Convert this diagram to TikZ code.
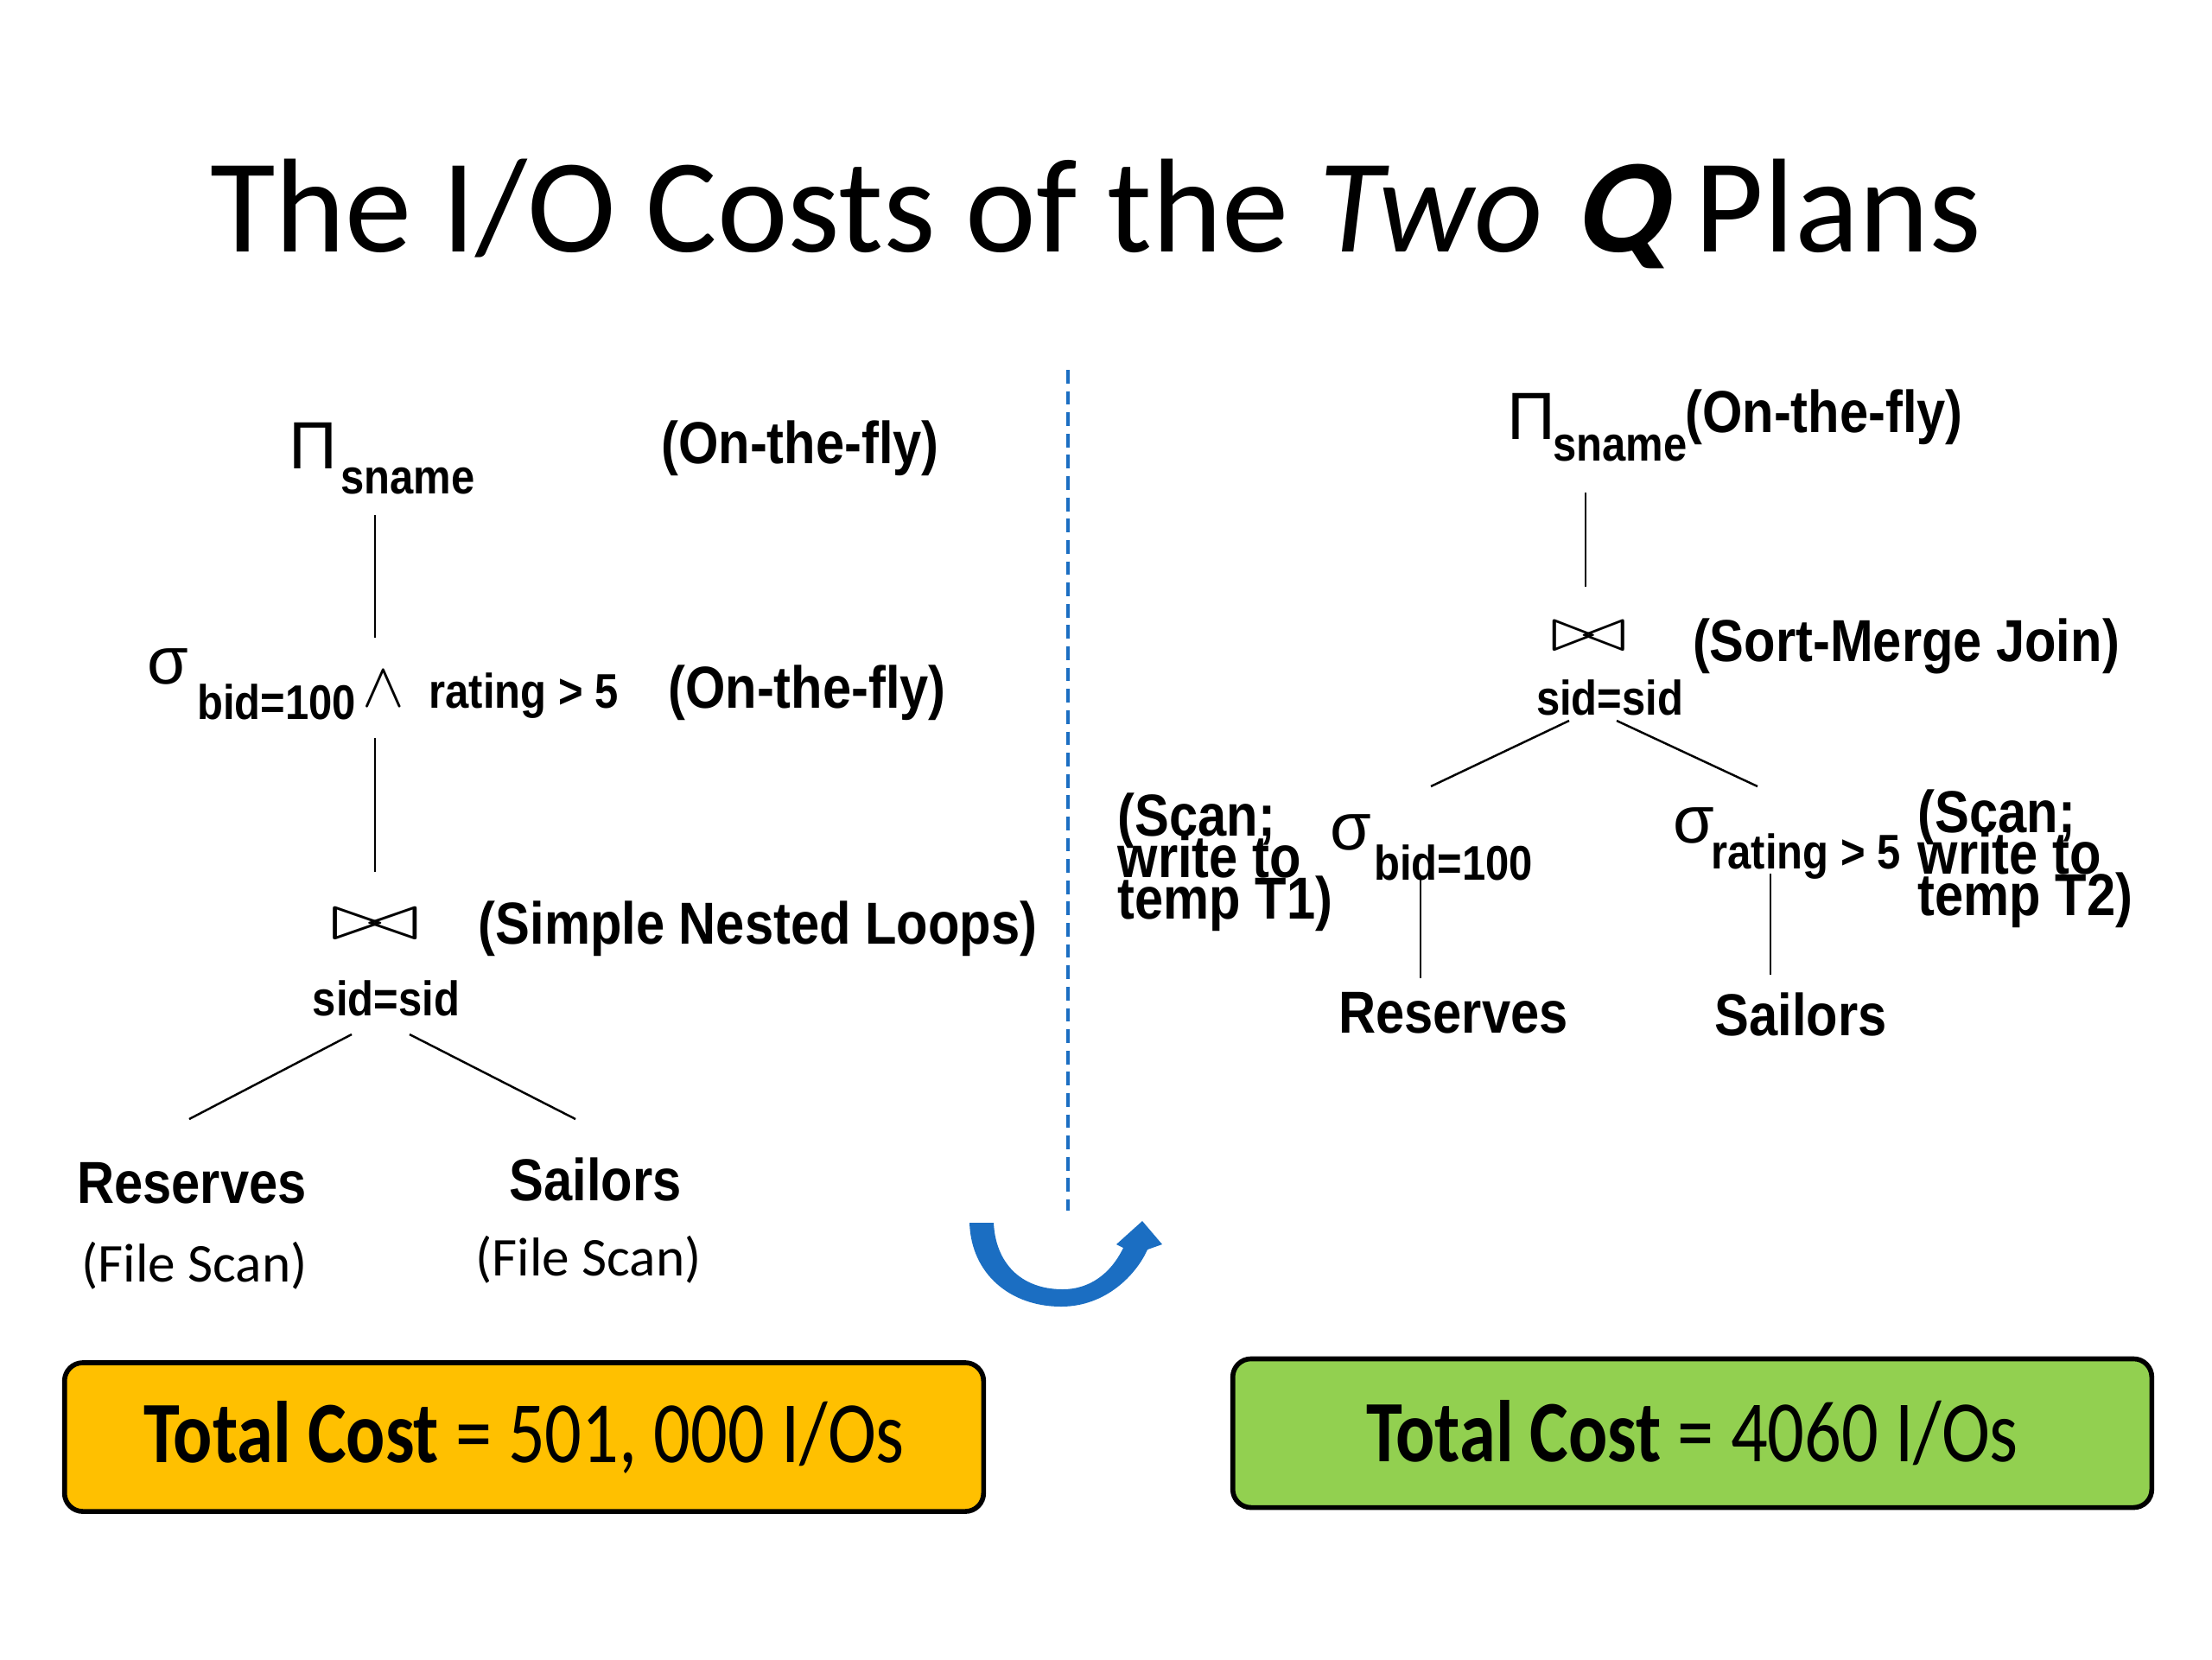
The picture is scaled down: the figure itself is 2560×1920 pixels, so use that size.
\documentclass[tikz,border=0pt]{standalone}
\usepackage{fontspec}
\usepackage{graphicx}
\setmainfont{Carlito}
\newfontfamily\treefont[FakeStretch=0.87]{Liberation Sans}
\newfontfamily\greekfont{Liberation Sans}
\newfontfamily\qfont[FakeSlant=0.22]{Carlito}
\newcommand\tightlines{\lineskiplimit=-50pt\relax}
\usetikzlibrary{calc}
\definecolor{costorange}{HTML}{FFC000}
\definecolor{costgreen}{HTML}{92D050}
\definecolor{slideblue}{HTML}{1B6EC2}

\begin{document}
\begin{tikzpicture}[x=0.01cm,y=-0.01cm,
  lbl/.style={font=\treefont\bfseries\fontsize{19.5}{22}\selectfont,inner sep=0pt},
  sub/.style={font=\treefont\bfseries\fontsize{16}{18}\selectfont,inner sep=0pt},
  op/.style={font=\greekfont\fontsize{22}{24}\selectfont,inner sep=0pt},
  jn/.style={font=\fontsize{22}{24}\selectfont,inner sep=0pt},
  scannote/.style={lbl,anchor=west,align=left,font=\treefont\bfseries\fontsize{19.5}{13.6}\selectfont\tightlines},
  filescan/.style={font=\fontsize{18}{20}\selectfont,inner sep=0pt},
  edge/.style={line width=0.7pt},
  costbox/.style={draw=black,line width=1.6pt,rounded corners=6pt,minimum width=10.63cm,minimum height=1.72cm,font=\fontsize{24}{28}\selectfont}]
\useasboundingbox (0,0) rectangle (2560,1920);

\node[anchor=base,font=\fontsize{44}{50}\selectfont] (title) at (1268,291) {The I/O Costs of the \textit{Two} {\qfont\bfseries Q} Plans};

% left plan
\node[op] (pi1) at (362,516) {Π};
\node[sub] (sn1) at (472,557) {sname};
\node[lbl] (otf1) at (926,519) {(On-the-fly)};
\node[op] (sel1) at (194,771) {σ};
\node[sub] (bid1) at (320,812) {bid=100};
\node[font=\fontsize{21}{24}\selectfont,inner sep=0pt] (and1) at (444,797) {$\wedge$};
\node[sub] (rat1) at (606,805) {rating > 5};
\node[lbl] (otf2) at (934,802) {(On-the-fly)};
\node[jn] (join1) at (434,1070) {\scalebox{1.75}[1.05]{$\bowtie$}};
\node[lbl] (snl) at (877,1075) {(Simple Nested Loops)};
\node[sub] (sid1) at (447,1155) {sid=sid};
\node[lbl] (res1) at (222,1369) {Reserves};
\node[lbl] (sai1) at (689,1365) {Sailors};
\node[filescan] (fs1) at (225,1465) {(File Scan)};
\node[filescan] (fs2) at (681,1458) {(File Scan)};

\draw[edge] ($(sn1)+(-38,39)$) -- ($(join1)+(0,-332)$);
\draw[edge] ($(and1)+(-10,57)$) -- ($(join1)+(0,-61)$);
\draw[edge] ($(sid1)+(-40,42)$) -- ($(res1)+(-3,-74)$);
\draw[edge] ($(sid1)+(27,42)$) -- ($(sai1)+(-23,-70)$);

% divider and swap arrow
\coordinate (divtop) at (1236,428);
\coordinate (divbot) at (1236,1401);
\draw[slideblue,line width=1pt,dash pattern=on 4.5pt off 2.5pt] (divtop) -- (divbot);
\fill[slideblue] (1122,1415) .. controls (1124,1475) and (1170,1512) .. (1228,1512)
  .. controls (1280,1512) and (1315,1475) .. (1328,1446) -- (1345,1440) -- (1322,1413)
  -- (1292,1440) -- (1300,1444) .. controls (1285,1475) and (1260,1492) .. (1230,1492)
  .. controls (1180,1492) and (1152,1460) .. (1150,1415) -- cycle;

% right plan
\node[op] (pi2) at (1772,482) {Π};
\node[sub] (sn2) at (1875,519) {sname};
\node[lbl] (otf3) at (2111,483) {(On-the-fly)};
\node[jn] (join2) at (1839,737) {\scalebox{1.5}[1.0]{$\bowtie$}};
\node[lbl] (smj) at (2206,748) {(Sort-Merge Join)};
\node[sub] (sid2) at (1863,807) {sid=sid};
\node[op] (sel2) at (1563,963) {σ};
\node[sub] (bid2) at (1682,998) {bid=100};
\node[lbl] (res2) at (1682,1172) {Reserves};
\node[op] (sel3) at (1960,955) {σ};
\node[sub] (rat2) at (2090,991) {rating > 5};
\node[lbl] (sai2) at (2084,1174) {Sailors};
\node[scannote] (scan1) at (1293,998) {(Scan;\\write to\\temp T1)};
\node[scannote] (scan2) at (2219,994) {(Scan;\\write to\\temp T2)};

\draw[edge] ($(sn2)+(-40,51)$) -- ($(join2)+(-4,-58)$);
\draw[edge] ($(sid2)+(-47,27)$) -- ($(bid2)+(-26,-88)$);
\draw[edge] ($(sid2)+(8,27)$) -- ($(rat2)+(-56,-81)$);
\draw[edge] ($(bid2)+(-38,18)$) -- ($(res2)+(-38,-40)$);
\draw[edge] ($(rat2)+(-41,20)$) -- ($(sai2)+(-35,-46)$);

% costs
\node[costbox,fill=costorange] (cost1) at (606.5,1663) {\scalebox{1}[1.2]{\textbf{Total Cost} = 501, 000 I/Os}};
\node[costbox,fill=costgreen] (cost2) at (1958.5,1658.5) {\scalebox{1}[1.2]{\textbf{Total Cost} = 4060 I/Os}};
\end{tikzpicture}
\end{document}
